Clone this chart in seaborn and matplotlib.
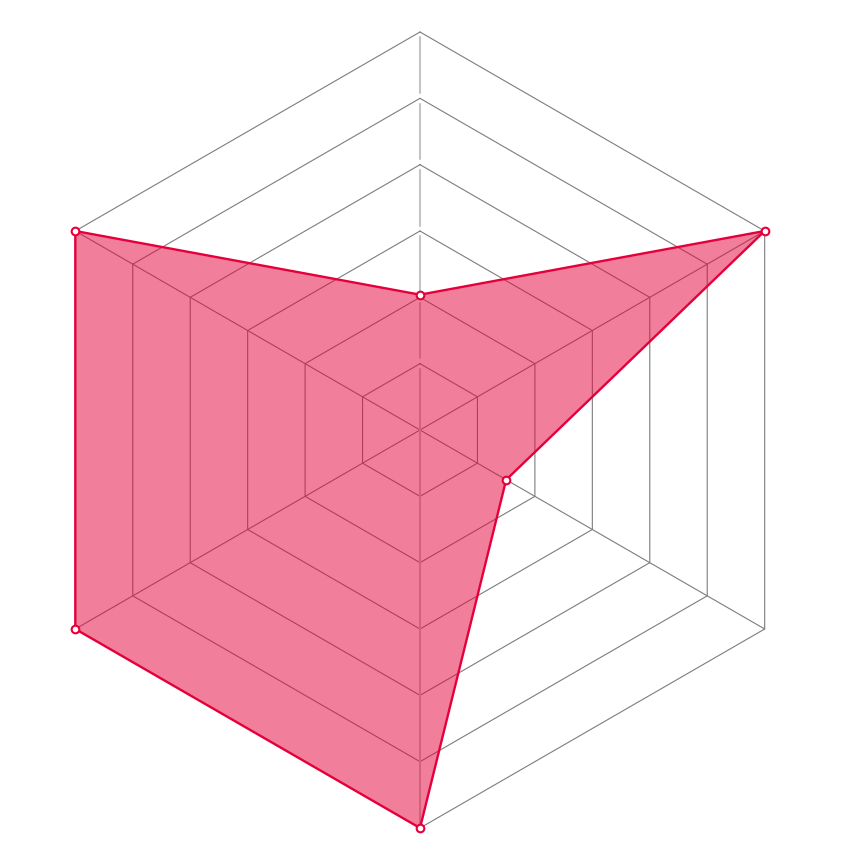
import numpy as np
import matplotlib
matplotlib.use("Agg")
import matplotlib.pyplot as plt
import seaborn as sns

sns.set_style("white")

# eixos do radar, no sentido horário a partir do topo
indicadores = ["A", "B", "C", "D", "E", "F"]
valores = [34, 100, 25, 100, 100, 100]
valor_max = 100
niveis = 6

cor = "#e5003a"
cor_grade = "#7d7d7d"

n = len(indicadores)
angulos = np.pi / 2 - np.arange(n) * 2 * np.pi / n

fig = plt.figure(figsize=(8.6, 8.6), dpi=100)
ax = fig.add_axes([0, 0, 1, 1])
esc = 398.0
ax.set_xlim(-420 / esc, 440 / esc)
ax.set_ylim(-430 / esc, 430 / esc)
ax.set_aspect("equal")
ax.axis("off")

# anéis hexagonais
for k in range(1, niveis + 1):
    r = k / niveis
    xs = r * np.cos(np.append(angulos, angulos[0]))
    ys = r * np.sin(np.append(angulos, angulos[0]))
    ax.plot(xs, ys, color=cor_grade, lw=0.8, zorder=1)

# raios (o vertical é o eixo, mais claro)
for i, a in enumerate(angulos):
    if i in (0, 3):
        continue
    ax.plot([0, np.cos(a)], [0, np.sin(a)], color=cor_grade, lw=0.8, zorder=1)

# eixo vertical claro, com pequenas falhas nos anéis superiores
gap = 0.013
ax.plot([0, 0], [0, -1], color="#c4c4c4", lw=1.5, zorder=1)
for k in range(niveis):
    r0 = k / niveis + (gap if k > 0 else 0)
    r1 = (k + 1) / niveis - gap
    ax.plot([0, 0], [r0, r1], color="#c4c4c4", lw=1.5, zorder=1)

# série
r = np.array(valores) / valor_max
px = r * np.cos(angulos)
py = r * np.sin(angulos)
px_c = np.append(px, px[0])
py_c = np.append(py, py[0])
ax.fill(px_c, py_c, color=cor, alpha=0.5, lw=0, zorder=2)
ax.plot(px_c, py_c, color=cor, lw=1.7, zorder=3)
ax.plot(px, py, ls="none", marker="o", ms=5.5, mfc="white", mec=cor, mew=1.5, zorder=4)

plt.savefig("out.png", dpi=100)
